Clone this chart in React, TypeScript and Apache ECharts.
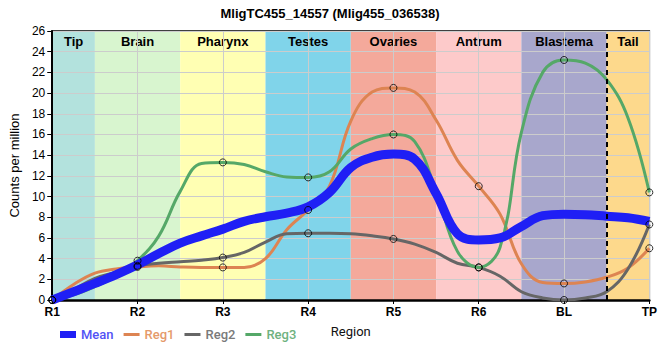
import React, { useEffect, useRef } from 'react';
import * as echarts from 'echarts';

const titleText = 'MligTC455_14557 (Mlig455_036538)';
const categories = ['R1', 'R2', 'R3', 'R4', 'R5', 'R6', 'BL', 'TP'];
const regionNames = ['Tip', 'Brain', 'Pharynx', 'Testes', 'Ovaries', 'Antrum', 'Blastema', 'Tail'];

// sample positions (in category units) at which the smoothed curves were read
const samplePos = [0, 0.25, 0.5, 0.75, 1, 1.25, 1.5, 1.75, 2, 2.25, 2.5, 2.75, 3, 3.25, 3.5, 3.75, 4, 4.25, 4.5, 4.75, 5, 5.25, 5.5, 5.75, 6, 6.25, 6.5, 6.75, 7];

const meanCurve = [0, 0.8, 1.6, 2.45, 3.4, 4.5, 5.5, 6.2, 6.85, 7.6, 8.05, 8.4, 9.0, 10.4, 12.8, 13.8, 14.1, 13.6, 10.3, 6.4, 5.8, 6.0, 7.1, 8.15, 8.3, 8.25, 8.1, 7.95, 7.6];
const reg1Curve = [0, 1.5, 2.6, 3.0, 3.2, 3.3, 3.2, 3.15, 3.15, 3.15, 4.0, 6.8, 8.7, 11.0, 17.3, 20.1, 20.5, 20.1, 17.4, 13.5, 11.0, 8.3, 3.5, 1.7, 1.6, 1.75, 2.2, 3.1, 5.0];
const reg2Curve = [0, 1.0, 2.1, 2.7, 3.3, 3.55, 3.7, 3.85, 4.1, 4.6, 5.6, 6.4, 6.45, 6.45, 6.4, 6.2, 5.9, 5.4, 4.6, 3.55, 3.15, 2.3, 0.8, 0.2, 0, 0.2, 0.8, 3.0, 7.3];
const reg3Curve = [0, 0.5, 1.3, 2.3, 3.8, 6.2, 10.5, 13.2, 13.3, 13.1, 12.4, 11.9, 11.85, 12.4, 14.6, 15.6, 16.0, 15.3, 10.5, 4.7, 3.15, 5.1, 16.2, 22.0, 23.2, 22.9, 21.3, 17.6, 10.4];

// measured region values (circles)
const reg1Points = [0, 3.2, 3.15, 8.7, 20.5, 11.0, 1.6, 5.0];
const reg2Points = [0, 3.3, 4.1, 6.45, 5.9, 3.15, 0, 7.3];
const reg3Points = [0, 3.8, 13.3, 11.85, 16.0, 3.15, 23.2, 10.4];

const yTicks = { min: 0, max: 26, interval: 2 };
const dividerPos = 6.5;

const bandColors = ['#b3e2dd', '#d8f5cf', '#ffffb3', '#80d4ea', '#f4a99b', '#fdcaca', '#a8a7cc', '#fdd98c'];
const lineColors = { mean: '#1f1ff5', reg1: '#dd8452', reg2: '#666666', reg3: '#55a868' };
const legendTextColors = { mean: '#5252f5', reg1: '#e59a6a', reg2: '#7a7a7a', reg3: '#6fb27f' };
const lineIcon = 'path://M0,0L16,0L16,3L0,3Z';

const toPairs = (curve: number[]) => curve.map((v, i) => [samplePos[i], v]);
const toPts = (arr: number[]) => arr.map((v, i) => [i, v]);

export default function App() {
  const ref = useRef<HTMLDivElement>(null);
  useEffect(() => {
    if (!ref.current) return;
    const chart = echarts.init(ref.current, undefined, { renderer: 'svg' });
    const last = categories.length - 1;
    const bands = regionNames.map((name, i) => [
      {
        name,
        xAxis: Math.max(0, i - 0.5),
        itemStyle: { color: bandColors[i] },
      },
      { xAxis: Math.min(last, i + 0.5) },
    ]);
    const circleStyle = {
      type: 'scatter',
      symbol: 'circle',
      symbolSize: 7,
      itemStyle: { color: 'rgba(0,0,0,0)', borderColor: '#000', borderWidth: 1 },
      z: 5,
      silent: true,
    };
    chart.setOption({
      animation: false,
      title: {
        text: titleText,
        left: 'center',
        top: 2,
        textStyle: { fontFamily: 'Liberation Sans', fontSize: 13, fontWeight: 'bold', color: '#000' },
      },
      grid: {
        left: 50,
        right: 10,
        top: 31,
        bottom: 60,
        show: true,
        borderColor: '#000',
        borderWidth: 1.5,
        backgroundColor: 'transparent',
      },
      legend: {
        left: 55,
        top: 323,
        itemWidth: 16,
        itemHeight: 7,
        itemGap: 10,
        textStyle: { fontFamily: 'Roboto', fontSize: 13, fontWeight: 500 },
        data: [
          { name: 'Mean', icon: 'rect', textStyle: { color: legendTextColors.mean } },
          { name: 'Reg1', icon: lineIcon, textStyle: { color: legendTextColors.reg1 } },
          { name: 'Reg2', icon: lineIcon, textStyle: { color: legendTextColors.reg2 } },
          { name: 'Reg3', icon: lineIcon, textStyle: { color: legendTextColors.reg3 } },
        ],
      },
      xAxis: {
        type: 'value',
        min: 0,
        max: last,
        interval: 1,
        z: 1.5,
        name: 'Region',
        nameLocation: 'middle',
        nameGap: 25,
        nameTextStyle: { fontFamily: 'Roboto', fontSize: 13, color: '#111' },
        axisLine: { show: true, lineStyle: { color: '#000', width: 2.5 } },
        axisTick: { show: true, length: 4, lineStyle: { color: '#000', width: 1 } },
        axisLabel: {
          formatter: (v: number) => categories[v] ?? '',
          fontFamily: 'Liberation Sans',
          fontSize: 12,
          fontWeight: 'bold',
          color: '#000',
          margin: 6,
        },
        splitLine: { show: true, lineStyle: { color: '#cccccc', width: 1 } },
      },
      yAxis: {
        type: 'value',
        min: yTicks.min,
        max: yTicks.max,
        interval: yTicks.interval,
        z: 1.5,
        name: 'Counts per million',
        nameLocation: 'middle',
        nameGap: 24,
        nameTextStyle: { fontFamily: 'Liberation Sans', fontSize: 13, color: '#000' },
        axisLine: { show: true, lineStyle: { color: '#000', width: 2 } },
        axisTick: { show: true, length: 5, lineStyle: { color: '#000', width: 1 } },
        axisLabel: { fontFamily: 'Liberation Sans', fontSize: 12, color: '#000', margin: 7 },
        splitLine: { show: true, lineStyle: { color: '#cccccc', width: 1 } },
      },
      series: [
        {
          name: 'Reg1',
          type: 'line',
          data: toPairs(reg1Curve),
          smooth: 0.4,
          symbol: 'none',
          lineStyle: { color: lineColors.reg1, width: 3 },
          itemStyle: { color: lineColors.reg1 },
          z: 2,
          silent: true,
          markArea: {
            silent: true,
            z: 1,
            label: {
              show: true,
              position: 'insideTop',
              distance: 4,
              fontFamily: 'Liberation Sans',
              fontSize: 13,
              fontWeight: 'bold',
              color: '#000',
            },
            data: bands,
          },
          markLine: {
            silent: true,
            symbol: ['none', 'none'],
            label: { show: false },
            lineStyle: { color: '#000', type: [5, 4], width: 2 },
            data: [{ xAxis: dividerPos }],
            z: 4,
          },
        },
        {
          name: 'Reg2',
          type: 'line',
          data: toPairs(reg2Curve),
          smooth: 0.4,
          symbol: 'none',
          lineStyle: { color: lineColors.reg2, width: 3 },
          itemStyle: { color: lineColors.reg2 },
          z: 2,
          silent: true,
        },
        {
          name: 'Reg3',
          type: 'line',
          data: toPairs(reg3Curve),
          smooth: 0.4,
          symbol: 'none',
          lineStyle: { color: lineColors.reg3, width: 3 },
          itemStyle: { color: lineColors.reg3 },
          z: 2,
          silent: true,
        },
        {
          name: 'Mean',
          type: 'line',
          data: toPairs(meanCurve),
          smooth: 0.4,
          symbol: 'none',
          lineStyle: { color: lineColors.mean, width: 9 },
          itemStyle: { color: lineColors.mean },
          z: 3,
          silent: true,
        },
        { ...circleStyle, name: 'pts1', data: toPts(reg1Points) },
        { ...circleStyle, name: 'pts2', data: toPts(reg2Points) },
        { ...circleStyle, name: 'pts3', data: toPts(reg3Points) },
      ],
    });
    return () => chart.dispose();
  }, []);
  return (
    <div
      ref={ref}
      style={{ position: 'fixed', left: 0, top: 0, width: 660, height: 360, background: '#fff' }}
    />
  );
}
